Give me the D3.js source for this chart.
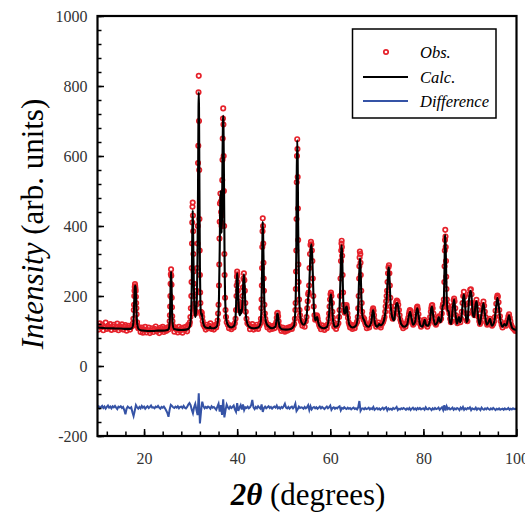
<!DOCTYPE html>
<html><head><meta charset="utf-8">
<script src="https://cdn.jsdelivr.net/npm/d3@7"></script>
<style>body{margin:0;background:#fff} svg{display:block}</style>
</head><body>
<svg id="c" width="525" height="518"></svg>
<script>
const xDomain = [10, 100];
const yDomain = [-200, 1000];
const xTickVals = [20, 40, 60, 80, 100];
const yTickVals = [-200, 0, 200, 400, 600, 800, 1000];
const legendLabels = ["Obs.", "Calc.", "Difference"];

// calculated pattern (2theta, intensity)
const calc = [
[10,110],[11,109],[12,108],[13,108],[14,107],[15,107],[16,106],[17,106],[17.4,108],[17.65,118],[17.8,150],[17.9,190],[18.0,222],[18.1,230],[18.2,222],[18.3,190],[18.4,148],[18.55,118],[18.8,106],[19.3,102],[20,101],[21,100],[22,100],[23,101],[24,101],[25,103],[25.3,106],[25.5,125],[25.6,160],[25.7,230],[25.8,270],[25.9,235],[26.0,165],[26.15,120],[26.4,106],[27,104],[28,103],[29,104],[29.6,107],[29.9,118],[30.1,150],[30.25,230],[30.35,370],[30.45,445],[30.55,370],[30.7,225],[30.85,160],[31.0,140],[31.15,150],[31.35,200],[31.5,330],[31.6,520],[31.7,740],[31.75,782],[31.8,740],[31.9,500],[32.0,280],[32.1,180],[32.25,145],[32.4,150],[32.55,135],[32.8,118],[33.2,110],[34,108],[34.2,112],[34.4,108],[35,108],[35.6,112],[35.9,135],[36.1,200],[36.25,330],[36.35,450],[36.45,500],[36.55,450],[36.65,380],[36.75,430],[36.85,600],[36.95,700],[37.0,715],[37.05,700],[37.15,560],[37.3,300],[37.45,180],[37.7,130],[38.1,115],[38.7,110],[39.3,114],[39.6,130],[39.8,185],[39.95,255],[40.05,265],[40.2,210],[40.4,155],[40.6,145],[40.75,160],[40.9,150],[41.1,170],[41.3,235],[41.45,262],[41.6,230],[41.8,160],[42.1,125],[42.6,112],[43.5,108],[44.5,110],[45.0,120],[45.2,160],[45.35,270],[45.45,395],[45.5,412],[45.6,360],[45.75,230],[45.95,150],[46.2,125],[46.6,115],[47.5,108],[48.2,112],[48.45,130],[48.6,148],[48.7,150],[48.85,135],[49.1,112],[49.6,105],[50.5,104],[51.5,106],[52.2,115],[52.5,160],[52.7,330],[52.8,550],[52.9,645],[53.0,590],[53.1,400],[53.3,210],[53.5,150],[53.8,125],[54.3,118],[54.8,130],[55.1,170],[55.3,200],[55.45,215],[55.6,270],[55.8,335],[55.95,348],[56.1,320],[56.3,240],[56.5,160],[56.8,130],[57.05,138],[57.2,140],[57.4,125],[57.8,112],[58.5,108],[59.3,112],[59.7,140],[59.95,190],[60.15,205],[60.35,180],[60.6,130],[61.0,112],[61.6,115],[61.9,140],[62.15,230],[62.35,330],[62.45,345],[62.55,320],[62.75,200],[62.95,150],[63.2,150],[63.4,168],[63.55,170],[63.75,145],[64.1,118],[64.8,110],[65.5,115],[65.9,140],[66.1,210],[66.3,290],[66.4,308],[66.5,280],[66.7,190],[66.95,140],[67.3,130],[67.6,118],[68.2,112],[68.8,125],[69.05,150],[69.2,160],[69.35,150],[69.6,122],[70.1,112],[70.5,120],[70.8,116],[71.3,122],[71.8,150],[72.1,190],[72.35,250],[72.5,278],[72.6,282],[72.75,240],[72.95,180],[73.3,140],[73.7,130],[74.0,160],[74.2,178],[74.4,180],[74.65,165],[74.9,140],[75.3,118],[75.9,112],[76.5,118],[76.9,145],[77.15,155],[77.4,140],[77.8,118],[78.2,125],[78.5,155],[78.7,165],[78.9,150],[79.3,118],[79.8,112],[80.1,125],[80.3,132],[80.55,118],[81.0,115],[81.4,130],[81.7,165],[81.85,170],[82.05,150],[82.5,118],[83.0,125],[83.3,140],[83.6,125],[83.9,135],[84.15,172],[84.35,175],[84.5,250],[84.65,370],[84.72,374],[84.85,300],[85.0,200],[85.2,160],[85.45,155],[85.7,125],[86.0,120],[86.3,165],[86.6,190],[86.9,150],[87.2,120],[87.5,135],[87.65,140],[87.9,125],[88.2,140],[88.5,190],[88.7,205],[88.95,175],[89.25,125],[89.5,130],[89.8,190],[90.1,215],[90.3,205],[90.6,150],[90.9,140],[91.2,175],[91.45,185],[91.75,140],[92.1,118],[92.5,150],[92.9,180],[93.2,150],[93.6,118],[94.0,125],[94.3,135],[94.7,115],[95.2,125],[95.6,165],[95.9,195],[96.2,170],[96.6,125],[97.0,112],[97.4,120],[97.8,115],[98.1,130],[98.4,145],[98.7,125],[99.1,108],[99.6,104],[100,103]
];

// observed points (2theta, intensity)
const obs = [
[10,115],[10.25,104],[10.5,122],[10.75,110],[11,118],[11.25,102],[11.5,112],[11.75,124],[12,106],[12.25,115],[12.5,109],[12.75,120],[13,103],[13.25,113],[13.5,118],[13.75,105],[14,111],[14.25,121],[14.5,102],[14.75,114],[15,108],[15.25,119],[15.5,104],[15.75,112],[16,117],[16.25,101],[16.5,109],[16.75,115],[17,104],[17.25,112],
[17.5,114],[17.6,121],[17.7,135],[17.8,160],[17.85,175],[17.9,200],[17.95,215],[18,226],[18.05,234],[18.1,228],[18.15,221],[18.2,214],[18.25,198],[18.3,180],[18.35,165],[18.4,148],[18.5,125],[18.6,115],[18.75,108],
[19,108],[19.25,97],[19.5,110],[19.75,95],[20,104],[20.25,112],[20.5,96],[20.75,103],[21,110],[21.25,94],[21.5,101],[21.75,108],[22,97],[22.25,106],[22.5,113],[22.75,99],[23,104],[23.25,94],[23.5,109],[23.75,102],[24,112],[24.25,97],[24.5,106],[24.75,100],[25,110],[25.25,104],
[25.4,112],[25.5,128],[25.55,145],[25.6,170],[25.65,200],[25.7,235],[25.75,262],[25.8,276],[25.85,258],[25.9,232],[25.95,195],[26,168],[26.05,142],[26.1,128],[26.2,115],[26.3,108],
[26.5,98],[26.75,110],[27,104],[27.25,96],[27.5,112],[27.75,101],[28,107],[28.25,95],[28.5,110],[28.75,103],[29,112],[29.25,99],[29.5,118],
[29.75,118],[29.85,125],[29.95,140],[30.05,165],[30.15,200],[30.2,240],[30.25,280],[30.3,350],[30.35,410],[30.4,455],[30.45,467],[30.5,430],[30.55,385],[30.6,320],[30.65,270],[30.7,235],[30.75,200],[30.8,178],[30.9,160],[31,150],[31.1,155],[31.2,175],[31.3,215],[31.4,280],[31.5,350],[31.55,400],[31.6,580],[31.65,629],[31.7,782],[31.75,829],[31.8,700],[31.85,560],[31.9,420],[31.95,330],[32,260],[32.05,210],[32.1,180],[32.2,155],[32.3,148],[32.4,152],[32.5,140],[32.6,128],[32.75,118],
[33,112],[33.25,104],[33.5,118],[33.75,108],[34,115],[34.25,122],[34.5,106],[34.75,113],[35,104],[35.25,117],[35.5,110],
[35.7,120],[35.8,130],[35.9,150],[36,175],[36.1,230],[36.15,290],[36.2,364],[36.25,412],[36.3,464],[36.4,493],[36.5,470],[36.55,440],[36.6,410],[36.65,400],[36.7,430],[36.75,480],[36.8,531],[36.85,589],[36.9,650],[36.95,707],[37,736],[37.05,690],[37.1,600],[37.15,500],[37.2,400],[37.25,320],[37.3,260],[37.4,195],[37.5,160],[37.6,140],[37.75,125],[38,118],
[38.25,108],[38.5,116],[38.75,105],[39,114],[39.25,110],[39.5,122],
[39.65,135],[39.75,160],[39.85,200],[39.9,230],[39.95,255],[40,270],[40.05,262],[40.1,240],[40.15,215],[40.25,185],[40.35,165],[40.45,160],[40.55,170],[40.65,175],[40.75,168],[40.85,160],[40.95,165],[41.05,180],[41.15,200],[41.25,225],[41.35,250],[41.45,265],[41.55,245],[41.65,215],[41.75,180],[41.85,155],[42,135],[42.2,122],
[42.5,118],[42.75,105],[43,113],[43.25,120],[43.5,104],[43.75,112],[44,108],[44.25,118],[44.5,106],[44.75,115],
[45,122],[45.1,135],[45.2,165],[45.25,190],[45.3,230],[45.35,280],[45.4,340],[45.45,385],[45.5,422],[45.55,400],[45.6,350],[45.65,295],[45.7,250],[45.75,215],[45.85,175],[45.95,150],[46.05,135],[46.2,125],[46.35,118],
[46.5,110],[46.75,118],[47,104],[47.25,112],[47.5,106],[47.75,115],[48,108],[48.25,118],
[48.4,125],[48.5,138],[48.6,150],[48.7,152],[48.8,142],[48.9,128],[49,115],
[49.25,108],[49.5,100],[49.75,110],[50,103],[50.25,98],[50.5,108],[50.75,101],[51,110],[51.25,104],[51.5,112],[51.75,106],[52,115],[52.25,120],
[52.4,135],[52.5,160],[52.55,180],[52.6,220],[52.65,270],[52.7,330],[52.75,420],[52.8,525],[52.85,600],[52.9,648],[52.95,620],[53,540],[53.05,450],[53.1,360],[53.15,290],[53.2,240],[53.3,190],[53.4,160],[53.5,145],[53.65,130],[53.8,125],
[54,115],[54.25,122],[54.5,112],[54.75,128],
[54.9,140],[55.05,165],[55.15,185],[55.25,205],[55.35,210],[55.45,230],[55.55,280],[55.65,320],[55.75,346],[55.85,355],[55.95,348],[56.05,330],[56.15,300],[56.25,250],[56.35,200],[56.45,170],[56.6,145],[56.75,132],
[56.9,135],[57,140],[57.1,145],[57.2,142],[57.3,135],[57.45,125],[57.6,118],
[57.75,112],[58,105],[58.25,116],[58.5,110],[58.75,103],[59,114],[59.25,108],[59.5,120],
[59.65,135],[59.75,150],[59.85,170],[59.95,190],[60.05,205],[60.15,210],[60.25,200],[60.35,180],[60.45,155],[60.55,138],[60.7,125],
[60.85,112],[61,118],[61.25,106],[61.5,115],[61.75,122],
[61.9,140],[62,160],[62.1,200],[62.2,250],[62.3,300],[62.35,330],[62.4,350],[62.45,358],[62.5,340],[62.55,315],[62.65,260],[62.75,210],[62.85,175],[62.95,158],[63.1,152],[63.2,155],[63.3,162],[63.4,170],[63.5,174],[63.6,165],[63.7,150],[63.8,138],[63.95,125],
[64.1,118],[64.25,110],[64.5,118],[64.75,106],[65,114],[65.25,108],[65.5,119],[65.75,126],
[65.9,140],[66,165],[66.1,200],[66.2,250],[66.25,285],[66.3,310],[66.35,327],[66.45,320],[66.5,295],[66.55,260],[66.65,215],[66.75,180],[66.85,155],[67,140],[67.15,132],[67.3,135],[67.45,125],
[67.6,118],[67.85,108],[68.1,116],[68.35,110],[68.6,120],
[68.8,128],[68.9,138],[69,150],[69.1,160],[69.2,165],[69.3,158],[69.4,145],[69.5,132],[69.65,122],
[69.85,112],[70.1,118],[70.35,124],[70.6,115],[70.85,110],[71.1,120],[71.35,126],
[71.5,132],[71.65,140],[71.8,155],[71.9,170],[72,185],[72.1,200],[72.2,215],[72.3,240],[72.4,265],[72.5,282],[72.6,288],[72.7,265],[72.8,230],[72.9,195],[73,170],[73.1,155],[73.25,142],[73.4,135],
[73.55,138],[73.7,148],[73.85,160],[74,172],[74.15,182],[74.3,187],[74.45,184],[74.6,175],[74.75,160],[74.9,145],[75.05,132],[75.2,125],
[75.4,115],[75.65,108],[75.9,118],[76.15,112],[76.4,122],[76.6,130],
[76.75,138],[76.9,148],[77,155],[77.1,160],[77.2,158],[77.3,150],[77.45,138],[77.6,125],[77.8,118],
[78,122],[78.2,130],[78.35,142],[78.5,158],[78.6,166],[78.7,170],[78.8,162],[78.95,148],[79.1,132],[79.3,120],
[79.5,112],[79.75,118],[80,124],[80.2,132],[80.4,128],[80.6,118],[80.85,112],[81.1,120],[81.3,128],
[81.45,140],[81.6,155],[81.7,165],[81.8,172],[81.9,174],[82,165],[82.15,150],[82.3,135],[82.5,122],
[82.7,118],[82.95,126],[83.2,138],[83.35,142],[83.55,130],[83.8,135],
[83.95,150],[84.1,168],[84.2,175],[84.3,178],[84.4,190],[84.5,240],[84.55,285],[84.6,330],[84.65,360],[84.7,389],[84.75,370],[84.8,340],[84.85,300],[84.9,255],[84.95,220],[85.05,190],[85.15,175],[85.3,165],[85.45,160],[85.6,150],[85.75,135],[85.9,125],
[86.05,128],[86.2,150],[86.35,172],[86.5,188],[86.6,193],[86.7,185],[86.85,165],[87,145],[87.15,130],
[87.3,122],[87.5,132],[87.65,140],[87.8,135],[87.95,125],[88.1,135],
[88.25,155],[88.4,180],[88.55,200],[88.7,212],[88.85,198],[89,175],[89.15,150],[89.3,130],
[89.45,128],[89.6,150],[89.75,180],[89.9,205],[90.05,218],[90.2,219],[90.35,205],[90.5,180],[90.65,160],[90.8,150],
[90.95,145],[91.1,165],[91.25,180],[91.4,189],[91.55,178],[91.7,160],[91.85,140],[92,128],[92.15,120],
[92.3,125],[92.45,140],[92.6,160],[92.75,175],[92.9,184],[93.05,172],[93.2,155],[93.35,140],[93.5,125],
[93.7,118],[93.9,122],[94.1,130],[94.3,135],[94.5,125],[94.75,115],[95,120],[95.2,128],
[95.35,140],[95.5,158],[95.65,178],[95.8,195],[95.9,201],[96,198],[96.15,182],[96.3,160],[96.45,142],[96.6,128],
[96.8,118],[97,110],[97.25,118],[97.5,122],[97.75,115],[97.95,125],
[98.1,132],[98.25,142],[98.4,148],[98.55,138],[98.7,128],[98.85,118],
[99,112],[99.25,108],[99.5,104],[99.75,100],[100,102]
];

// difference curve (offset), sampled every 0.25 deg from 10
const diffStart = 10, diffStep = 0.25;
const diff = [
-118,-115,-121,-117, -114,-120,-116,-122, -117,-113,-119,-116, -121,-115,-118,-114, -119,-123,-116,-118,
-115,-120,-117,-126, -138,-122,-116,-119, -121,-118,-132,-143, -128,-112,-118,-122, -117,-121,-114,-119,
-116,-122,-118,-115, -120,-117,-113,-119, -118,-121,-116,-118, -114,-119,-122,-117, -119,-116,-121,-127,
-134,-145,-124,-111, -114,-118,-120,-116, -119,-115,-121,-117, -116,-120,-114,-119, -121,-117,-110,-106,
-112,-125,-135,-118, -108,-125,-140,-78, -164,-128,-102,-115, -121,-117,-120,-116, -118,-122,-115,-119,
-117,-121,-125,-116, -108,-130,-112,-140, -95,-147,-126,-110, -118,-122,-116,-120, -117,-113,-124,-131,
-106,-128,-119,-112, -124,-110,-126,-118, -120,-116,-121,-118, -112,-97,-118,-123, -117,-121,-115,-119,
-122,-110,-131,-120, -116,-121,-118,-115, -120,-117,-122,-118, -116,-119,-113,-121, -118,-122,-117,-120,
-115,-108,-119,-121, -117,-122,-118,-116, -121,-117,-108,-129, -124,-116,-120,-118, -119,-122,-117,-121,
-118,-112,-126,-115, -124,-119,-117,-121, -118,-122,-119,-116, -121,-117,-120,-123, -119,-116,-121,-118,
-113,-125,-120,-118, -122,-119,-121,-117, -115,-127,-120,-122, -118,-121,-123,-119, -122,-120,-124,-121,
-119,-123,-121,-124, -118,-100,-128,-122, -121,-124,-120,-123, -122,-119,-124,-121, -123,-117,-125,-122,
-120,-124,-121,-125, -122,-119,-124,-120, -118,-127,-121,-124, -122,-125,-120,-123, -121,-117,-126,-122,
-124,-121,-123,-120, -122,-125,-121,-124, -120,-126,-122,-119, -124,-121,-125,-120, -123,-120,-124,-122,
-121,-125,-118,-123, -124,-120,-122,-126, -121,-124,-120,-123, -122,-119,-125,-121, -118,-126,-112,-127,
-115,-123,-120,-124, -122,-119,-125,-121, -124,-120,-122,-126, -119,-123,-117,-125, -121,-124,-120,-122,
-118,-126,-121,-123, -124,-119,-125,-121, -122,-126,-119,-123, -125,-121,-124,-120, -123,-125,-121,-124,
-120,-123,-126,-122, -124,-121,-125,-123, -122,-125,-121,-124, -123,-120,-125,-122, -124,-121,-123,-122,
-123
];

const svg = d3.select("#c");
const plotL = 97.5, plotR = 516.5, plotT = 16, plotB = 436;
const x = d3.scaleLinear().domain(xDomain).range([plotL, plotR]);
const y = d3.scaleLinear().domain(yDomain).range([plotB, plotT]);
const serif = "'Liberation Serif', 'DejaVu Serif', serif";
const red = "#e6222b", blue = "#3553a6";

svg.append("defs").append("clipPath").attr("id", "clip")
  .append("rect").attr("x", plotL).attr("y", plotT).attr("width", plotR - plotL).attr("height", plotB - plotT);

const plot = svg.append("g").attr("clip-path", "url(#clip)");

// observed
plot.append("g").selectAll("circle").data(obs).join("circle")
  .attr("cx", d => x(d[0])).attr("cy", d => y(d[1])).attr("r", 2.2)
  .attr("fill", "none").attr("stroke", red).attr("stroke-width", 1.7);

// calculated
plot.append("path").datum(calc)
  .attr("d", d3.line().x(d => x(d[0])).y(d => y(d[1])).curve(d3.curveMonotoneX))
  .attr("fill", "none").attr("stroke", "#000").attr("stroke-width", 2.1);

// difference
plot.append("path").datum(diff)
  .attr("d", d3.line().x((d, i) => x(diffStart + i * diffStep)).y(d => y(d)))
  .attr("fill", "none").attr("stroke", blue).attr("stroke-width", 2);

// axes
function styleAxis(g) {
  g.select(".domain").remove();
  g.selectAll(".tick line").attr("stroke", "#000").attr("stroke-width", 1.5);
  g.selectAll(".tick text").attr("font-family", serif).attr("font-size", 16).attr("fill", "#333");
}
svg.append("g").attr("transform", `translate(${plotL},0)`)
  .call(d3.axisLeft(y).tickValues(d3.range(-200, 1001, 40)).tickSize(-4).tickFormat(""))
  .call(styleAxis);
svg.append("g").attr("transform", `translate(${plotL},0)`)
  .call(d3.axisLeft(y).tickValues(yTickVals).tickSize(-6.5).tickPadding(10).tickFormat(d => String(d)))
  .call(styleAxis);
svg.append("g").attr("transform", `translate(0,${plotB})`)
  .call(d3.axisBottom(x).tickValues(d3.range(12, 100, 4)).tickSize(-4.5).tickFormat(""))
  .call(styleAxis);
svg.append("g").attr("transform", `translate(0,${plotB})`)
  .call(d3.axisBottom(x).tickValues(xTickVals).tickSize(-7).tickPadding(17).tickFormat(d => String(d)))
  .call(styleAxis);

// frame
svg.append("rect").attr("x", plotL).attr("y", plotT).attr("width", plotR - plotL).attr("height", plotB - plotT)
  .attr("fill", "none").attr("stroke", "#000").attr("stroke-width", 2.2);

// axis titles
const yl = svg.append("text").attr("transform", "translate(43,224) rotate(-90)")
  .attr("text-anchor", "middle").attr("font-family", serif).attr("font-size", 31).attr("fill", "#000");
yl.append("tspan").attr("font-style", "italic").text("Intensity");
yl.append("tspan").text(" (arb. units)");

const xl = svg.append("text").attr("x", 308).attr("y", 505)
  .attr("text-anchor", "middle").attr("font-family", serif).attr("font-size", 31).attr("fill", "#000");
xl.append("tspan").attr("font-style", "italic").attr("font-weight", "bold").text("2θ");
xl.append("tspan").text(" (degrees)");

// legend
const lg = svg.append("g");
lg.append("rect").attr("x", 352.5).attr("y", 29).attr("width", 143.5).attr("height", 89)
  .attr("fill", "#fff").attr("stroke", "#000").attr("stroke-width", 1.5);
const rows = [52, 77, 101];
lg.append("circle").attr("cx", 386).attr("cy", rows[0]).attr("r", 2.2)
  .attr("fill", "none").attr("stroke", red).attr("stroke-width", 1.7);
lg.append("line").attr("x1", 363).attr("x2", 408).attr("y1", rows[1]).attr("y2", rows[1])
  .attr("stroke", "#000").attr("stroke-width", 2);
lg.append("line").attr("x1", 363).attr("x2", 408).attr("y1", rows[2]).attr("y2", rows[2])
  .attr("stroke", blue).attr("stroke-width", 1.8);
lg.selectAll("text.lab").data(legendLabels).join("text").attr("class", "lab")
  .attr("x", 420).attr("y", (d, i) => rows[i] + 6)
  .attr("font-family", serif).attr("font-style", "italic").attr("font-size", 16.5).attr("fill", "#000")
  .text(d => d);
</script>
</body></html>
